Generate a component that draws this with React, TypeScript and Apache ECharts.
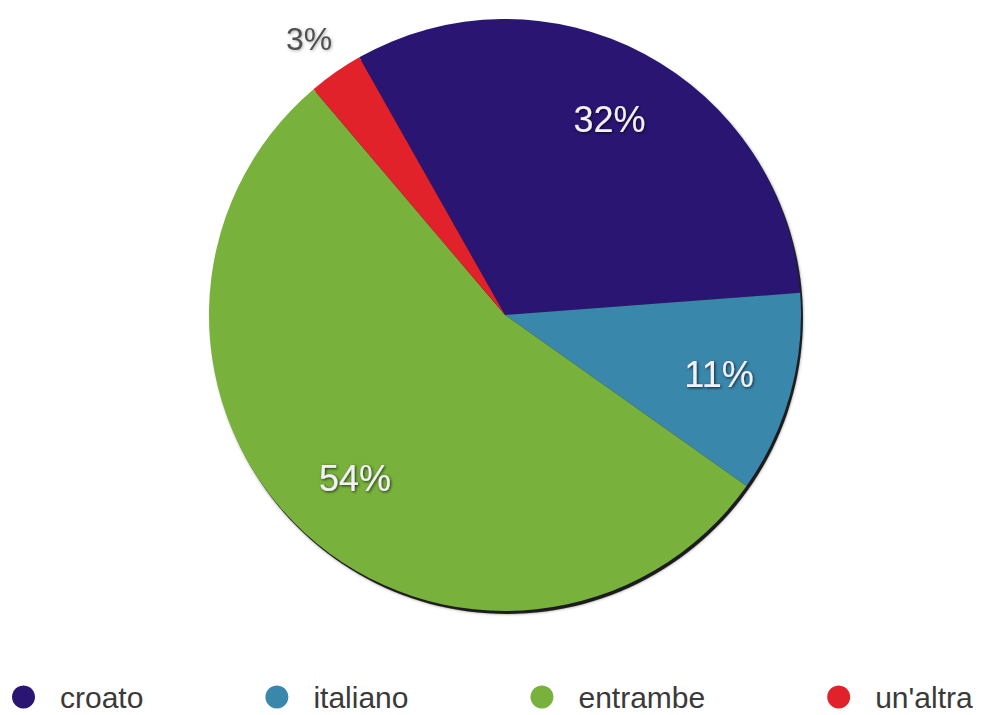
import React, { useEffect, useRef } from "react";
import * as echarts from "echarts";

const categories = ["croato", "italiano", "entrambe", "un'altra"];
const values = [32, 11, 54, 3];
const colors = ["#2a1573", "#3a87ac", "#78b13c", "#e2222b"];

const CX = 505;
const CY = 315;
const R = 296;

export default function App() {
  const ref = useRef<HTMLDivElement>(null);
  useEffect(() => {
    if (!ref.current) return;
    const chart = echarts.init(ref.current, undefined, { renderer: "svg" });
    const total = values.reduce((a, b) => a + b, 0);
    const mainData = categories.map((name, i) => ({
      name,
      value: values[i],
      itemStyle: { color: colors[i] },
    }));
    const labelData = categories.map((name, i) => {
      const outside = i === 3;
      return {
        name,
        value: values[i],
        label: outside
          ? {
              position: "outside",
              color: "#505050",
              fontSize: 32,
              distanceToLabelLine: -20,
              textShadowColor: "rgba(120,120,120,0.6)",
              textShadowBlur: 3,
            }
          : { position: "inside" },
        labelLine: { show: false, length: 41, length2: 0 },
      };
    });
    chart.setOption({
      animation: false,
      backgroundColor: "#ffffff",
      legend: {
        data: categories,
        orient: "horizontal",
        left: 7,
        top: 677,
        icon: "circle",
        itemWidth: 23,
        itemHeight: 23,
        itemGap: 122,
        selectedMode: false,
        textStyle: {
          fontFamily: "Liberation Sans, Arial, sans-serif",
          fontSize: 30,
          lineHeight: 30,
          color: "#3a3a3a",
          padding: [0, 0, 0, 20],
        },
      },
      series: [
        {
          type: "pie",
          name: "main",
          center: [CX, CY],
          radius: [0, R],
          startAngle: 119.5,
          clockwise: true,
          avoidLabelOverlap: false,
          z: 3,
          label: { show: false },
          labelLine: { show: false },
          itemStyle: { borderWidth: 0 },
          emphasis: { disabled: true },
          data: mainData,
        },
        {
          type: "pie",
          name: "shadow",
          center: [CX + 2, CY + 3],
          radius: [0, R],
          silent: true,
          z: 1,
          label: { show: false },
          labelLine: { show: false },
          itemStyle: {
            color: "rgba(15,15,15,0.9)",
            shadowColor: "rgba(0,0,0,0.5)",
            shadowBlur: 3,
          },
          emphasis: { disabled: true },
          data: [{ name: "shadow", value: total }],
        },
        {
          type: "pie",
          name: "labels",
          center: [CX, CY],
          radius: [R * 0.48, R],
          startAngle: 119.5,
          clockwise: true,
          avoidLabelOverlap: false,
          silent: true,
          z: 5,
          itemStyle: { color: "rgba(0,0,0,0)", borderWidth: 0 },
          emphasis: { disabled: true },
          label: {
            show: true,
            formatter: (p: any) => `${p.value}%`,
            fontFamily: "Liberation Sans, Arial, sans-serif",
            fontSize: 36,
            color: "#f2f0f8",
            textShadowColor: "rgba(0,0,0,0.75)",
            textShadowBlur: 3,
            textShadowOffsetX: 1,
            textShadowOffsetY: 1,
          },
          data: labelData,
        },
      ],
    });
    return () => chart.dispose();
  }, []);
  return (
    <div
      ref={ref}
      style={{ position: "fixed", left: 0, top: 0, width: 988, height: 715 }}
    />
  );
}
